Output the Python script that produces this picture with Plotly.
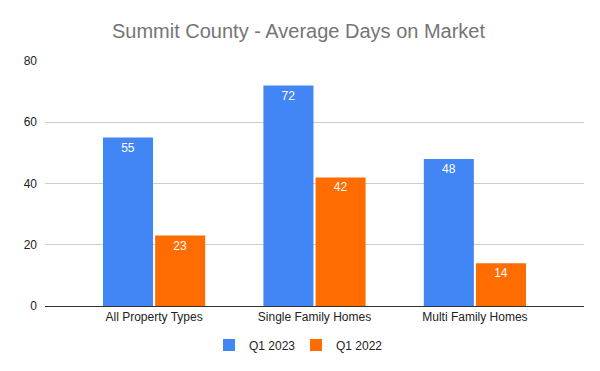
import plotly.graph_objects as go

categories = ["All Property Types", "Single Family Homes", "Multi Family Homes"]
q1_2023 = [55, 72, 48]
q1_2022 = [23, 42, 14]
series_names = ["Q1 2023", "Q1 2022"]
y_ticks = [0, 20, 40, 60, 80]

FONT = "Arial, Liberation Sans, sans-serif"
OFF = 8  # page body margin offset

fig = go.Figure()
for name, vals, color in [(series_names[0], q1_2023, "#4285F4"), (series_names[1], q1_2022, "#FF6D01")]:
    fig.add_trace(go.Bar(
        x=categories, y=vals, name=name, marker=dict(color=color, line=dict(width=0)),
        text=[str(v) for v in vals], textposition="inside", insidetextanchor="end",
        textfont=dict(color="white", size=12, family=FONT),
        textangle=0,
    ))

fig.update_layout(
    width=600, height=371,
    margin=dict(l=45 - OFF, r=16 + OFF, t=61 - OFF, b=65 + OFF, autoexpand=False),
    paper_bgcolor="white", plot_bgcolor="white",
    title=dict(text="Summit County - Average Days on Market", x=(298.5 - OFF) / 600, xanchor="center",
               xref="container", y=1 - (31 - OFF) / 371, yanchor="middle", yref="container",
               font=dict(size=20, color="#757575", family=FONT)),
    barmode="group", bargap=0.35, bargroupgap=0.04,
    font=dict(family=FONT, size=12, color="#222222"),
    legend=dict(orientation="h", xref="container", x=(296 - OFF) / 600, xanchor="center",
                yref="container", y=1 - (345 - OFF) / 371, yanchor="middle",
                font=dict(size=12, color="#222222", family=FONT), itemwidth=30,
                entrywidth=42, entrywidthmode="pixels"),
    showlegend=True,
)
fig.update_xaxes(range=[-0.68, 2.68], showgrid=False, showline=True, linecolor="#333333",
                 linewidth=1, ticks="", tickfont=dict(size=12, color="#222222"))
fig.update_yaxes(range=[0, 80], tickvals=y_ticks, showgrid=True, gridcolor="#cccccc",
                 zeroline=False, showline=False, ticks="", ticklabelstandoff=7,
                 tickfont=dict(size=12, color="#222222"))

fig.write_html("out.html")
